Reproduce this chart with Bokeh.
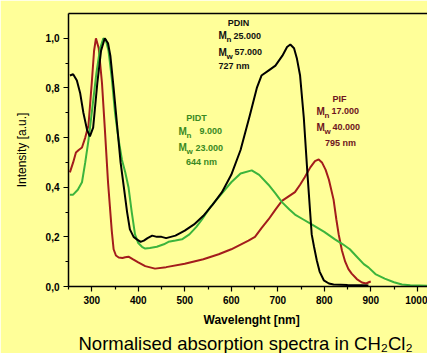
from bokeh.plotting import figure
from bokeh.models import (LinearAxis, FixedTicker, Range1d, Title, ColumnDataSource)
from bokeh.embed import file_html
from bokeh.resources import INLINE

# ---------------- data ----------------
pdin_x = [253, 260, 268, 275, 282, 290, 296, 303, 312, 320, 328, 335, 340, 347, 354,
          362, 369, 376, 382, 390, 397, 405, 412, 420, 430, 440, 450, 460, 470, 480,
          490, 500, 520, 540, 560, 580, 600, 620, 640, 655, 665, 680, 695, 710, 720,
          727, 735, 741, 748, 756, 764, 773, 778, 784, 790, 799, 810, 820, 850, 880, 895]
pdin_y = [0.85, 0.855, 0.83, 0.78, 0.70, 0.63, 0.605, 0.64, 0.82, 0.95, 1.0, 0.98, 0.93,
          0.80, 0.66, 0.50, 0.40, 0.30, 0.23, 0.20, 0.19, 0.18, 0.185, 0.195, 0.205,
          0.20, 0.20, 0.195, 0.20, 0.205, 0.215, 0.225, 0.25, 0.285, 0.33, 0.38, 0.45,
          0.55, 0.69, 0.80, 0.85, 0.87, 0.89, 0.93, 0.965, 0.975, 0.96, 0.92, 0.85,
          0.68, 0.45, 0.21, 0.16, 0.105, 0.06, 0.025, 0.012, 0.008, 0.006, 0.005, 0.004]

pidt_x = [253, 260, 270, 279, 286, 293, 300, 310, 318, 325, 330, 336, 343, 350, 357,
          365, 372, 379, 386, 393, 400, 408, 415, 425, 440, 455, 465, 480, 494, 510,
          525, 537, 555, 580, 600, 620, 644, 660, 680, 695, 709, 725, 737, 755, 773,
          800, 823, 840, 855, 870, 885, 895, 910, 930, 950, 967, 985, 1005, 1022]
pidt_y = [0.37, 0.37, 0.39, 0.42, 0.50, 0.59, 0.70, 0.86, 0.96, 1.0, 0.995, 0.95, 0.84,
          0.70, 0.60, 0.51, 0.46, 0.40, 0.30, 0.21, 0.175, 0.16, 0.153, 0.155, 0.16,
          0.17, 0.18, 0.185, 0.19, 0.21, 0.24, 0.27, 0.32, 0.375, 0.42, 0.455, 0.468,
          0.45, 0.41, 0.375, 0.34, 0.31, 0.29, 0.27, 0.25, 0.22, 0.19, 0.17, 0.15, 0.12,
          0.09, 0.077, 0.05, 0.032, 0.017, 0.008, 0.005, 0.004, 0.003]

pif_x = [253, 260, 266, 272, 279, 286, 293, 300, 305, 309, 315, 322, 328, 335, 343,
         347, 352, 358, 366, 372, 379, 388, 400, 415, 436, 460, 500, 540, 573, 600,
         637, 651, 665, 680, 695, 709, 725, 737, 748, 758, 770, 780, 788, 795, 803,
         810, 820, 826, 831, 838, 845, 852, 859, 870, 881, 890, 897, 900]
pif_y = [0.46, 0.50, 0.54, 0.55, 0.56, 0.60, 0.65, 0.82, 0.95, 1.0, 0.96, 0.82, 0.64,
         0.42, 0.225, 0.15, 0.125, 0.117, 0.115, 0.118, 0.12, 0.11, 0.097, 0.082, 0.072,
         0.078, 0.092, 0.11, 0.13, 0.15, 0.185, 0.20, 0.235, 0.27, 0.31, 0.345, 0.365,
         0.38, 0.41, 0.44, 0.48, 0.505, 0.512, 0.50, 0.47, 0.43, 0.35, 0.27, 0.21,
         0.145, 0.10, 0.07, 0.052, 0.03, 0.016, 0.012, 0.018, 0.02]

x_ticks = [300, 400, 500, 600, 700, 800, 900, 1000]
x_tick_labels = ["300", "400", "500", "600", "700", "800", "900", "1000"]
x_minor = [250, 350, 450, 550, 650, 750, 850, 950]
y_ticks = [0.0, 0.2, 0.4, 0.6, 0.8, 1.0]
y_tick_labels = ["0,0", "0,2", "0,4", "0,6", "0,8", "1,0"]
y_minor = [0.1, 0.3, 0.5, 0.7, 0.9]

# annotations (text, x, y, colour, size, align)
ann_text = ["PDIN", "M", "n", "25.000", "M", "w", "57.000", "727 nm",
            "PIDT", "M", "n", "9.000", "M", "w", "23.000", "644 nm",
            "PIF", "M", "n", "17.000", "M", "w", "40.000", "795 nm"]
ann_x = [615.6, 572.6, 589.8, 604.8, 572.6, 589.8, 607.0, 572.6,
         525.3, 486.6, 503.8, 531.7, 486.6, 503.8, 523.1, 536.0,
         832.8, 783.3, 800.5, 815.6, 783.3, 800.5, 817.7, 835.0]
ann_y = [1.060, 1.010, 0.994, 1.010, 0.944, 0.928, 0.944, 0.887,
         0.677, 0.625, 0.609, 0.625, 0.560, 0.544, 0.560, 0.500,
         0.754, 0.706, 0.690, 0.706, 0.641, 0.625, 0.641, 0.577]
C_PDIN, C_PIDT, C_PIF = "#111111", "#3a8a22", "#6e1420"
ann_color = [C_PDIN] * 8 + [C_PIDT] * 8 + [C_PIF] * 8
ann_size = ["9px", "10px", "8px", "9px", "10px", "8px", "9px", "9px"] * 3
ann_align = ["center", "left", "left", "left", "left", "left", "left", "left",
             "center", "left", "left", "left", "left", "left", "left", "center",
             "center", "left", "left", "left", "left", "left", "left", "center"]

BG = "#ffff99"
FONT = "Liberation Sans"

p = figure(frame_width=359, frame_height=273, output_backend="svg", toolbar_location=None,
           x_range=Range1d(250, 1022), y_range=Range1d(0, 1.1),
           x_axis_location=None, y_axis_location=None,
           min_border_left=68, min_border_right=0, min_border_top=13, min_border_bottom=67)
p.background_fill_color = BG
p.border_fill_color = BG
p.outline_line_color = None
p.grid.visible = False

# axes
xax = LinearAxis(ticker=FixedTicker(ticks=x_ticks, minor_ticks=x_minor),
                 major_label_overrides=dict(zip(x_ticks, x_tick_labels)))
yax = LinearAxis(ticker=FixedTicker(ticks=y_ticks, minor_ticks=y_minor),
                 major_label_overrides=dict(zip(y_ticks, y_tick_labels)),
                 axis_label="Intensity [a.u.]")
for ax in (xax, yax):
    ax.axis_line_width = 1.5
    ax.axis_line_color = "black"
    ax.major_tick_line_width = 1.2
    ax.minor_tick_line_width = 1.2
    ax.major_tick_in = 0
    ax.major_tick_out = 5
    ax.minor_tick_in = 0
    ax.minor_tick_out = 3
    ax.major_label_text_font = FONT
    ax.major_label_text_font_size = "10px"
    ax.major_label_text_font_style = "bold"
    ax.major_label_text_color = "black"
    ax.major_label_standoff = 4
yax.axis_label_text_font = FONT
yax.axis_label_text_font_size = "12px"
yax.axis_label_text_font_style = "normal"
yax.axis_label_text_color = "black"
yax.axis_label_standoff = 14
p.add_layout(xax, "below")
p.add_layout(yax, "left")

top = LinearAxis(ticker=FixedTicker(ticks=[]), axis_line_width=1.5, axis_line_color="black",
                 major_tick_out=0, minor_tick_out=0, major_label_standoff=0)
p.add_layout(top, "above")

xlabel = Title(text="Wavelenght [nm]", align="left", offset=135, standoff=8,
               text_font=FONT, text_font_size="12px", text_font_style="bold",
               text_color="black")
p.add_layout(xlabel, "below")
main = Title(text="Normalised absorption spectra in CH\u2082Cl\u2082", align="left", offset=10,
             standoff=1, text_font=FONT, text_font_size="18.5px", text_font_style="normal",
             text_color="black")
p.add_layout(main, "below")

# curves
p.line(pif_x, pif_y, line_color="#a31c1c", line_width=2)
p.line(pidt_x, pidt_y, line_color="#3cb43c", line_width=2)
p.line(pdin_x, pdin_y, line_color="black", line_width=2)

src = ColumnDataSource(dict(text=ann_text, x=ann_x, y=ann_y, color=ann_color,
                            size=ann_size, align=ann_align))
p.text(x="x", y="y", text="text", source=src, text_color="color", text_font_size="size",
       text_align="align", text_baseline="middle", text_font_style="bold",
       text_font={"value": FONT})

open("out.html", "w").write(file_html(p, INLINE))
